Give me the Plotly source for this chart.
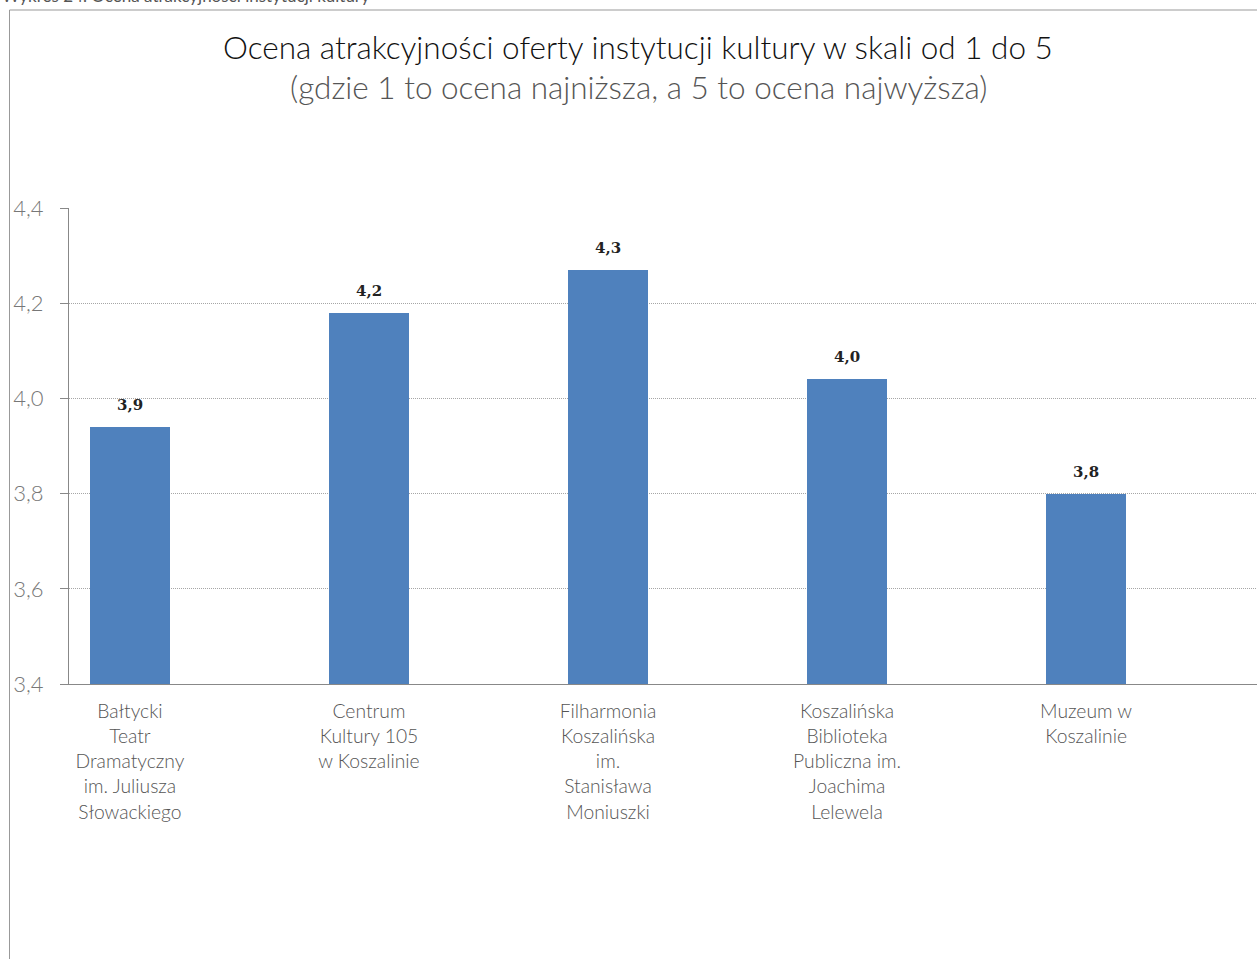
import plotly.graph_objects as go

categories = [
    "Bałtycki<br>Teatr<br>Dramatyczny<br>im. Juliusza<br>Słowackiego",
    "Centrum<br>Kultury 105<br>w Koszalinie",
    "Filharmonia<br>Koszalińska<br>im.<br>Stanisława<br>Moniuszki",
    "Koszalińska<br>Biblioteka<br>Publiczna im.<br>Joachima<br>Lelewela",
    "Muzeum w<br>Koszalinie",
]
values = [3.94, 4.18, 4.27, 4.04, 3.80]
labels = ["3,9", "4,2", "4,3", "4,0", "3,8"]
yticks = [3.4, 3.6, 3.8, 4.0, 4.2, 4.4]

W, H = 1257, 959
L, R, T, B = 69, 0, 208, 275
pw, ph = W - L - R, H - T - B

def px_x(x):
    return (x - L) / pw

def px_y(y):
    return (H - B - y) / ph

positions = list(range(len(categories)))

fig = go.Figure()
fig.add_trace(go.Bar(
    x=positions, y=values, width=0.335,
    marker=dict(color="#4F81BD", line=dict(width=0)),
    hoverinfo="skip",
))

for xp, v, lab in zip(positions, values, labels):
    fig.add_annotation(
        x=xp, y=v, xref="x", yref="y", text="<b>" + lab + "</b>",
        showarrow=False, yshift=22, xanchor="center", yanchor="middle",
        font=dict(family="DejaVu Serif", size=15, color="#222"),
    )

fig.update_layout(
    width=W, height=H,
    margin=dict(l=L, r=R, t=T, b=B),
    paper_bgcolor="white", plot_bgcolor="white",
    separators=", ",
    showlegend=False,
    font=dict(family="Lato", color="#555"),
    xaxis=dict(
        range=[-0.255, 4.715], tickvals=positions, ticktext=categories,
        showgrid=False, showline=True, linecolor="#888", linewidth=1,
        ticks="", tickfont=dict(family="Lato", size=19.3, color="#555", weight=300),
        ticklabelstandoff=10,
        zeroline=False, fixedrange=True,
    ),
    yaxis=dict(
        range=[3.4, 4.4], tickvals=yticks, tickformat=".1f",
        showgrid=True, gridcolor="#a6a6a6", griddash="1px,1px", gridwidth=1,
        showline=True, linecolor="#888", linewidth=1,
        ticks="outside", ticklen=8, tickcolor="#888",
        tickfont=dict(family="Lato", size=22, color="#777", weight=300),
        ticklabelstandoff=12,
        zeroline=False, fixedrange=True,
    ),
    bargap=0,
)

fig.add_annotation(
    xref="paper", yref="paper", x=px_x(638), y=px_y(47),
    text="Ocena atrakcyjności oferty instytucji kultury w skali od 1 do 5",
    showarrow=False, xanchor="center", yanchor="middle",
    font=dict(family="Lato", size=31.5, color="#111", weight=300),
)
fig.add_annotation(
    xref="paper", yref="paper", x=px_x(638), y=px_y(87),
    text="(gdzie 1 to ocena najniższa, a 5 to ocena najwyższa)",
    showarrow=False, xanchor="center", yanchor="middle",
    font=dict(family="Lato", size=31.5, color="#555", weight=300),
)
fig.add_annotation(
    xref="paper", yref="paper", x=px_x(0), y=px_y(-5),
    text="Wykres 24. Ocena atrakcyjności instytucji kultury",
    showarrow=False, xanchor="left", yanchor="middle",
    font=dict(family="Lato", size=17, color="#555"),
)

# chart frame border (continues off-page)
fig.add_shape(type="line", xref="paper", yref="paper",
              x0=px_x(9.5), x1=px_x(9.5), y0=px_y(10), y1=px_y(H + 5),
              line=dict(color="#999", width=1))
fig.add_shape(type="line", xref="paper", yref="paper",
              x0=px_x(9.5), x1=px_x(W + 5), y0=px_y(10), y1=px_y(10),
              line=dict(color="#999", width=1))

fig.write_html(
    "out.html",
    config={"displayModeBar": False},
    post_script="document.body.style.margin='0';document.body.style.overflow='hidden';",
)
